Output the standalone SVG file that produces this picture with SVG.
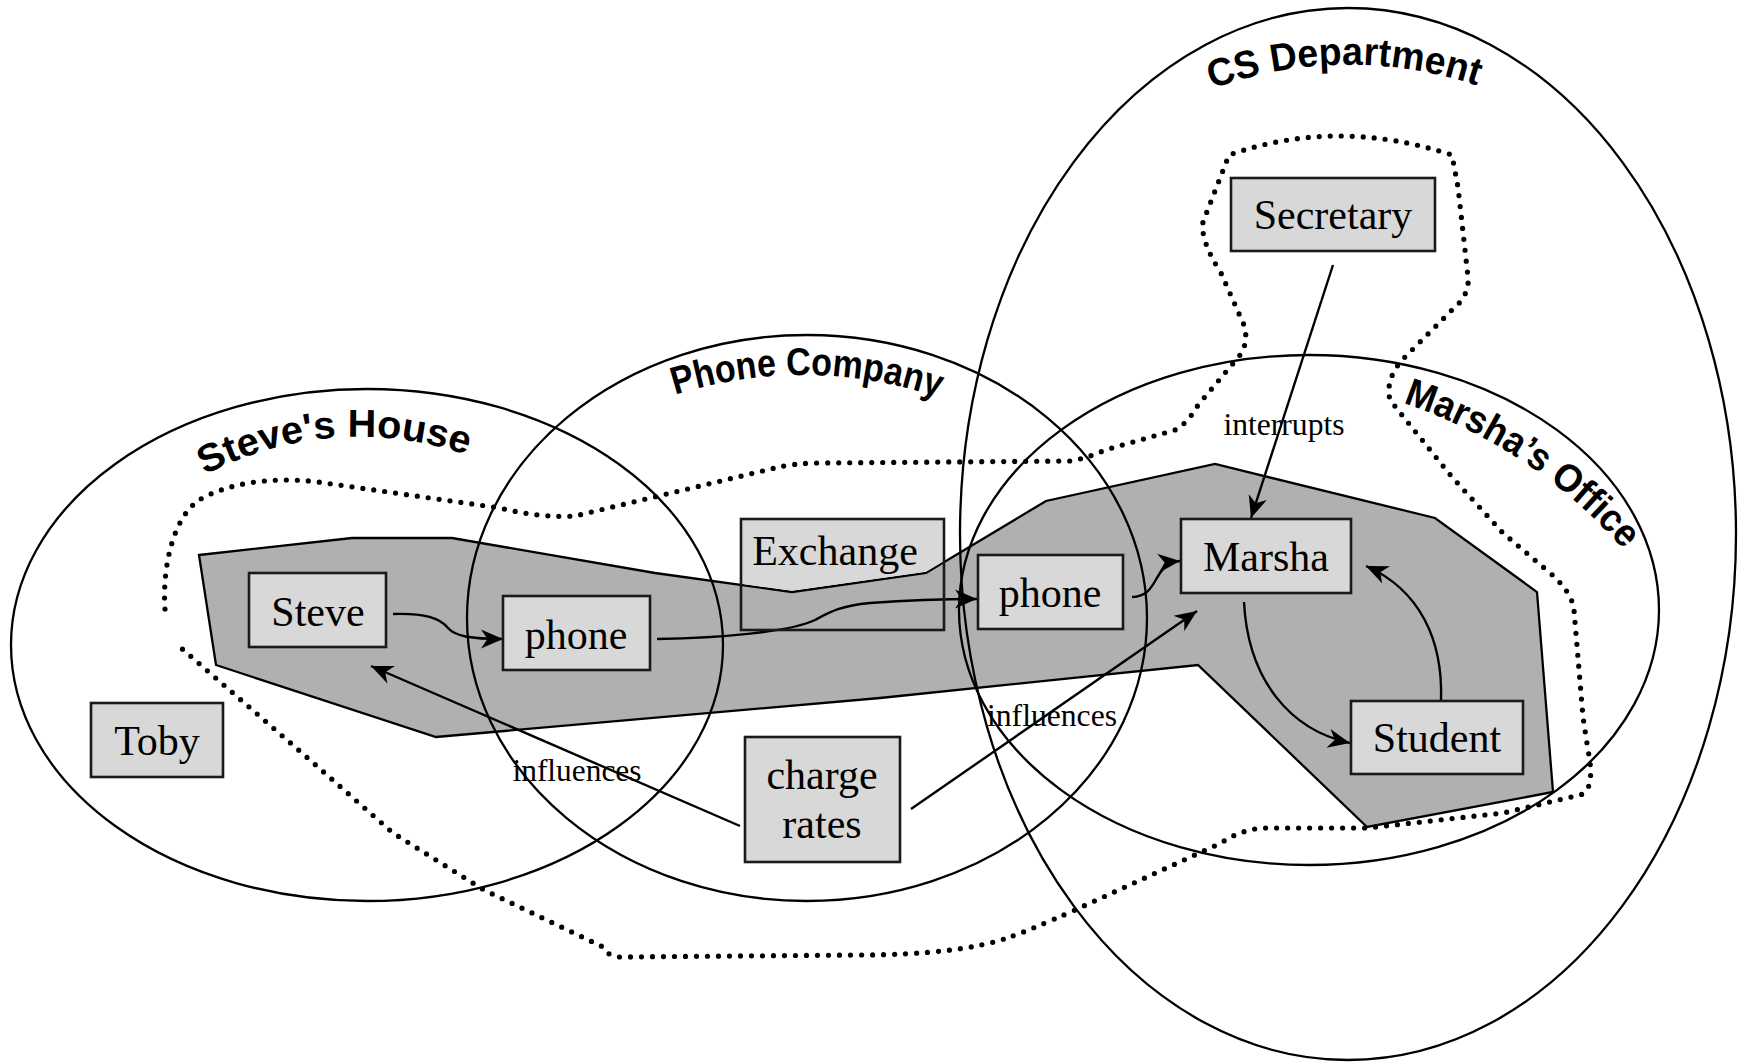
<svg xmlns="http://www.w3.org/2000/svg" width="1738" height="1062" viewBox="0 0 1738 1062">
  <style>
    .region { fill: none; stroke: #000; stroke-width: 2.3; }
    .region-label { font-family: "Liberation Sans", Arial, Helvetica, sans-serif; font-weight: bold; font-size: 39px; fill: #000; }
    .box { fill: #d8d8d8; stroke: #1a1a1a; stroke-width: 2.6; }
    .box-fill { fill: #d8d8d8; stroke: none; }
    .box-line { fill: none; stroke: #1a1a1a; stroke-width: 2.6; }
    .box-label { font-family: "Liberation Serif", "Times New Roman", serif; font-size: 42px; fill: #000; text-anchor: middle; }
    .edge { fill: none; stroke: #000; stroke-width: 2.4; marker-end: url(#arrow); }
    .edge-label { font-family: "Liberation Serif", "Times New Roman", serif; font-size: 31px; fill: #000; text-anchor: middle; }
    .area { fill: #b0b0b0; stroke: #000; stroke-width: 2.3; stroke-linejoin: miter; }
    .dotted { fill: none; stroke: #000; stroke-width: 5.2; stroke-dasharray: 0 11; stroke-linecap: round; stroke-linejoin: round; }
  </style>
  <defs>
    <marker id="arrow" markerUnits="userSpaceOnUse" viewBox="-23 -11 24 22" markerWidth="24" markerHeight="22" refX="0" refY="0" orient="auto">
      <path d="M0,0 L-22,-9.5 L-15.5,0 L-22,9.5 Z" fill="#000"/>
    </marker>
    <!-- baselines for the curved region names -->
    <path id="lbl-steve" d="M 205 475 A 330 330 0 0 1 466 454.7"/>
    <path id="lbl-phoneco" d="M 675 395 A 420 420 0 0 1 938 397.4"/>
    <path id="lbl-cs" d="M 1212 89 A 400 400 0 0 1 1478 86"/>
    <path id="lbl-office" d="M 1403 403 A 508 508 0 0 1 1624 550"/>
  </defs>

  <rect x="0" y="0" width="1738" height="1062" fill="#fff"/>

  <!-- shaded interaction area -->
  <polygon class="area" points="199,555 352,538 452,538 655,573 792,592 926,573 1046,501 1215,464 1435,518 1537,592 1553,792 1367,827 1198,665 880,698 436,737 216,665"/>

  <!-- regions -->
  <g id="regions">
    <ellipse id="region-steves-house" class="region" cx="367" cy="645" rx="356" ry="256"/>
    <ellipse id="region-phone-company" class="region" cx="807" cy="618" rx="340" ry="283"/>
    <ellipse id="region-cs-department" class="region" cx="1348" cy="534" rx="388" ry="526"/>
    <ellipse id="region-marshas-office" class="region" cx="1309" cy="610" rx="350" ry="255"/>
  </g>

  <!-- dotted boundary -->
  <path id="boundary" class="dotted" d="M 165 609
    C 162 565 174 517 199 500
    C 226 484 270 476 318 482
    L 500 508
    Q 540 518 575 516
    L 775 468
    Q 795 463 820 463
    L 1070 461
    Q 1088 458 1105 450
    L 1175 430
    Q 1188 423 1198 405
    L 1236 360
    Q 1250 345 1244 325
    L 1221 273
    Q 1200 240 1203 222
    L 1229 155
    Q 1337 117 1452 155
    L 1458 187
    L 1468 277
    Q 1470 295 1452 310
    L 1402 360
    Q 1385 380 1390 400
    L 1410 425
    L 1452 477
    L 1503 533
    L 1543 567
    Q 1572 590 1574 610
    L 1583 717
    L 1588 750
    Q 1596 790 1580 795
    L 1503 813
    L 1367 828
    L 1262 828
    Q 1240 830 1221 843
    L 1075 910
    Q 1030 930 1010 937
    Q 960 955 856 955
    L 617 957
    Q 607 955 603 947
    L 484 890
    L 393 833
    L 302 753
    L 180 647"/>

  <!-- region names -->
  <g id="region-labels">
    <text class="region-label"><textPath href="#lbl-steve" textLength="270" lengthAdjust="spacingAndGlyphs">Steve's House</textPath></text>
    <text class="region-label"><textPath href="#lbl-phoneco" textLength="268" lengthAdjust="spacingAndGlyphs">Phone Company</textPath></text>
    <text class="region-label"><textPath href="#lbl-cs" textLength="270" lengthAdjust="spacingAndGlyphs">CS Department</textPath></text>
    <text class="region-label"><textPath href="#lbl-office" textLength="268" lengthAdjust="spacingAndGlyphs">Marsha’s Office</textPath></text>
  </g>

  <!-- connectors -->
  <g id="connectors">
    <path id="e-steve-phone" class="edge" d="M 393 614 C 425 613 440 618 448 628 C 455 636 470 639 503 639"/>
    <path id="e-phone-phone" class="edge" d="M 657 639 C 720 638 790 632 815 620 C 830 612 840 606 870 603 C 910 600 945 599 977 599"/>
    <path id="e-phone-marsha" class="edge" d="M 1132 597 C 1150 596 1152 585 1160 573 C 1165 565 1170 562 1180 561"/>
    <path id="e-secretary-marsha" class="edge" d="M 1333 265 L 1251 518"/>
    <path id="e-marsha-student" class="edge" d="M 1244 602 C 1248 680 1290 730 1350 743"/>
    <path id="e-student-marsha" class="edge" d="M 1441 700 C 1443 640 1420 590 1366 566"/>
    <path id="e-rates-steve" class="edge" d="M 740 826 L 371 666"/>
    <path id="e-rates-marsha" class="edge" d="M 911 809 L 1197 611"/>
  </g>

  <!-- nodes -->
  <g id="node-exchange">
    <path class="box-fill" d="M 741 519 H 944 V 561 L 926 571.8 L 792 590.8 L 741 583.7 Z"/>
    <rect class="box-line" x="741" y="519" width="203" height="111"/>
    <text class="box-label" x="835" y="565" font-size="37">Exchange</text>
  </g>
  <g id="node-steve">
    <rect class="box" x="249" y="573" width="137" height="74"/>
    <text class="box-label" x="318" y="626">Steve</text>
  </g>
  <g id="node-toby">
    <rect class="box" x="91" y="703" width="132" height="74"/>
    <text class="box-label" x="157" y="755">Toby</text>
  </g>
  <g id="node-phone-home">
    <rect class="box" x="503" y="596" width="147" height="74"/>
    <text class="box-label" x="576" y="649">phone</text>
  </g>
  <g id="node-charge-rates">
    <rect class="box" x="745" y="737" width="155" height="125"/>
    <text class="box-label" x="822" y="789">charge</text>
    <text class="box-label" x="822" y="838">rates</text>
  </g>
  <g id="node-phone-office">
    <rect class="box" x="978" y="555" width="145" height="74"/>
    <text class="box-label" x="1050" y="607">phone</text>
  </g>
  <g id="node-marsha">
    <rect class="box" x="1181" y="519" width="170" height="74"/>
    <text class="box-label" x="1266" y="571">Marsha</text>
  </g>
  <g id="node-student">
    <rect class="box" x="1351" y="701" width="172" height="73"/>
    <text class="box-label" x="1437" y="752">Student</text>
  </g>
  <g id="node-secretary">
    <rect class="box" x="1231" y="178" width="204" height="73"/>
    <text class="box-label" x="1333" y="229">Secretary</text>
  </g>

  <!-- connector labels -->
  <g id="connector-labels">
    <text class="edge-label" x="577" y="781" textLength="129" lengthAdjust="spacingAndGlyphs">influences</text>
    <text class="edge-label" x="1052" y="726" textLength="130" lengthAdjust="spacingAndGlyphs">influences</text>
    <text class="edge-label" x="1284" y="435" textLength="121" lengthAdjust="spacingAndGlyphs">interrupts</text>
  </g>
</svg>
